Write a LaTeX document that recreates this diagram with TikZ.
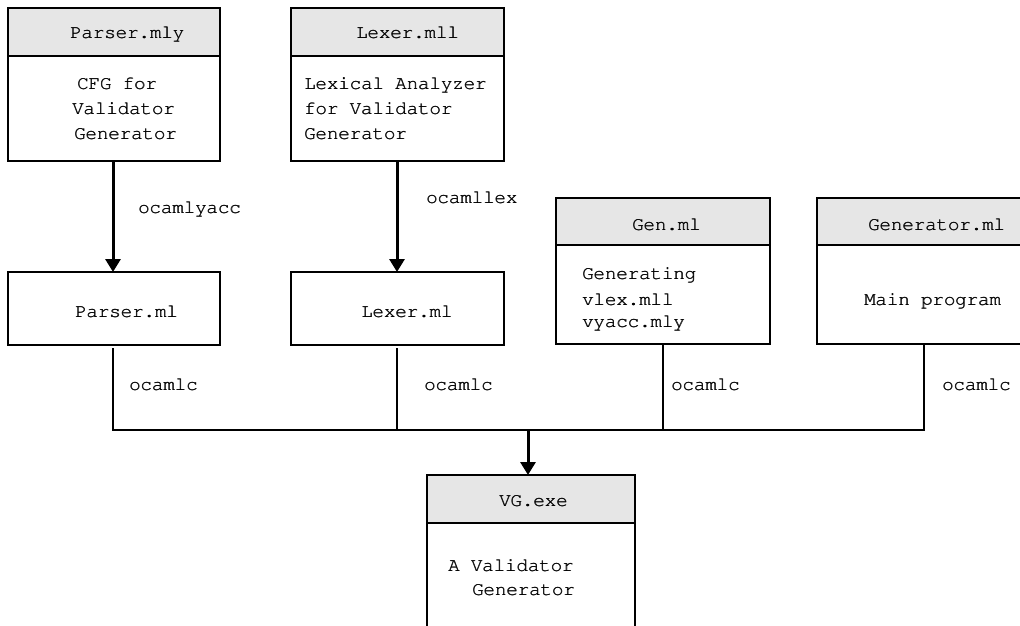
\documentclass[tikz,border=0pt]{standalone}
\usepackage[T1]{fontenc}
\usepackage{courier}
\usetikzlibrary{arrows.meta}
\definecolor{headgray}{HTML}{E6E6E6}
% Courier set twice with a small offset, for a slightly heavier stroke
\newcommand\heavytt[1]{\rlap{#1}\kern0.55pt#1}
\begin{document}
\begin{tikzpicture}[x=1pt,y=-1pt,
  every node/.style={font=\ttfamily\fontsize{19}{25}\selectfont, inner sep=0pt, outer sep=0pt},
  boxframe/.style={draw, line width=2.8pt, anchor=north west, minimum width=#1},
  headbox/.style={boxframe=#1, fill=headgray, minimum height=48pt},
  bodybox/.style={boxframe=#1, fill=white},
  txt/.style={anchor=base west},
  flow/.style={line width=3pt, -{Triangle[width=15pt,length=13pt]}},
  link/.style={line width=2.5pt}
]
\useasboundingbox (0,0) rectangle (1020,626);
\clip (0,0) rectangle (1020,626);

% Parser.mly
\node[bodybox=212pt, minimum height=105pt] (pyb) at (8,56) {};
\node[headbox=212pt] (pyh) at (8,8) {};
\node[txt] (pyt) at (70,39) {\heavytt{Parser.mly}};
\node[txt] (py1) at (77,89) {\heavytt{CFG for}};
\node[txt] (py2) at (72,114) {\heavytt{Validator}};
\node[txt] (py3) at (74,139) {\heavytt{Generator}};

% Lexer.mll
\node[bodybox=213pt, minimum height=105pt] (lxb) at (291,56) {};
\node[headbox=213pt] (lxh) at (291,8) {};
\node[txt] (lxt) at (356,39) {\heavytt{Lexer.mll}};
\node[txt] (lx1) at (304,89) {\heavytt{Lexical Analyzer}};
\node[txt] (lx2) at (304,114) {\heavytt{for Validator}};
\node[txt] (lx3) at (304,139) {\heavytt{Generator}};

% Parser.ml and Lexer.ml
\node[bodybox=212pt, minimum height=73pt] (pml) at (8,272) {};
\node[txt] (pmlt) at (75,317) {\heavytt{Parser.ml}};
\node[bodybox=213pt, minimum height=73pt] (lml) at (291,272) {};
\node[txt] (lmlt) at (361,317) {\heavytt{Lexer.ml}};

% Gen.ml
\node[bodybox=214pt, minimum height=99pt] (gnb) at (556,245) {};
\node[headbox=214pt, minimum height=47pt] (gnh) at (556,198) {};
\node[txt] (gnt) at (632,230) {\heavytt{Gen.ml}};
\node[txt] (gn1) at (582,279) {\heavytt{Generating}};
\node[txt] (gn2) at (582,305) {\heavytt{vlex.mll}};
\node[txt] (gn3) at (582,327) {\heavytt{vyacc.mly}};

% Generator.ml
\node[bodybox=214pt, minimum height=99pt] (grb) at (817,245) {};
\node[headbox=214pt, minimum height=47pt] (grh) at (817,198) {};
\node[txt] (grt) at (868,230) {\heavytt{Generator.ml}};
\node[txt] (gr1) at (864,305) {\heavytt{Main program}};

% VG.exe
\node[bodybox=208pt, minimum height=200pt] (vgb) at (427,523) {};
\node[headbox=208pt] (vgh) at (427,475) {};
\node[txt] (vgt) at (499,506) {\heavytt{VG.exe}};
\node[txt] (vg1) at (448,571) {\heavytt{A Validator}};
\node[txt] (vg2) at (472,595) {\heavytt{Generator}};

% generator tools
\draw[flow] (pyb.south -| 113,0) -- (pml.north -| 113,0);
\node[txt] (lyacc) at (138,213) {\heavytt{ocamlyacc}};
\draw[flow] (lxb.south -| 397,0) -- (lml.north -| 397,0);
\node[txt] (llex) at (426,203) {\heavytt{ocamllex}};

% compilation bus
\coordinate (bus) at (528,430);
\draw[link] ([yshift=-3pt]pml.south -| 113,0) |- (bus);
\draw[link] ([yshift=-3pt]lml.south -| 397,0) |- (bus);
\draw[link] (gnb.south) |- (bus);
\draw[link] (grb.south) |- (bus);
\node[txt] (c1) at (129,390) {\heavytt{ocamlc}};
\node[txt] (c2) at (424,390) {\heavytt{ocamlc}};
\node[txt] (c3) at (671,390) {\heavytt{ocamlc}};
\node[txt] (c4) at (942,390) {\heavytt{ocamlc}};
\draw[flow] (bus) -- (vgh.north -| bus);
\end{tikzpicture}
\end{document}
